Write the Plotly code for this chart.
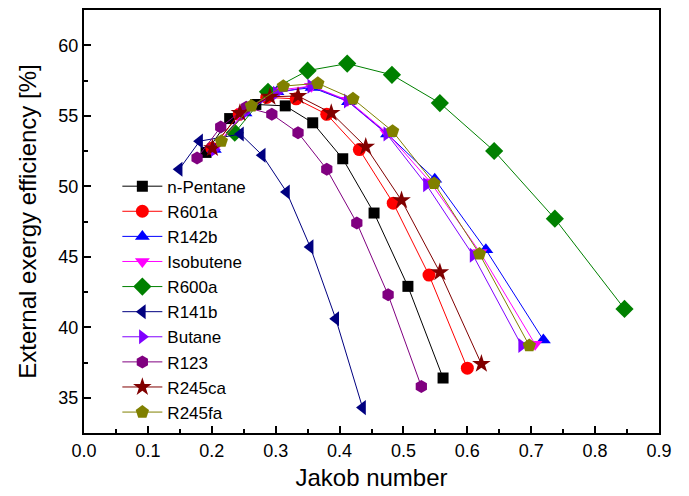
import plotly.graph_objects as go

# ---- data ----
npentane_x = [0.191, 0.228, 0.269, 0.315, 0.358, 0.405, 0.454, 0.507, 0.562]
npentane_y = [52.4, 54.8, 55.8, 55.7, 54.5, 51.95, 48.1, 42.9, 36.4]

r601a_x = [0.200, 0.243, 0.286, 0.332, 0.380, 0.431, 0.484, 0.540, 0.600]
r601a_y = [52.7, 55.1, 56.3, 56.2, 55.1, 52.6, 48.8, 43.7, 37.1]

r142b_x = [0.204, 0.252, 0.302, 0.357, 0.414, 0.475, 0.549, 0.629, 0.719]
r142b_y = [52.6, 55.2, 56.7, 57.0, 56.0, 53.7, 50.5, 45.5, 39.1]

isobutene_x = [0.204, 0.251, 0.301, 0.356, 0.413, 0.474, 0.542, 0.620, 0.706]
isobutene_y = [52.7, 55.3, 56.8, 57.1, 56.1, 53.8, 50.3, 45.3, 38.8]

r600a_x = [0.236, 0.288, 0.350, 0.412, 0.482, 0.557, 0.642, 0.737, 0.846]
r600a_y = [53.8, 56.7, 58.2, 58.7, 57.9, 55.9, 52.5, 47.7, 41.3]

r141b_x = [0.149, 0.181, 0.245, 0.279, 0.317, 0.354, 0.394, 0.436]
r141b_y = [51.2, 53.2, 53.7, 52.2, 49.6, 45.7, 40.6, 34.3]

butane_x = [0.204, 0.251, 0.301, 0.355, 0.412, 0.474, 0.536, 0.609, 0.685]
butane_y = [52.6, 55.2, 56.6, 57.1, 56.05, 53.7, 50.1, 45.1, 38.7]

r123_x = [0.177, 0.214, 0.254, 0.294, 0.335, 0.380, 0.427, 0.476, 0.528]
r123_y = [52.0, 54.2, 55.6, 55.1, 53.8, 51.2, 47.4, 42.3, 35.8]

r245ca_x = [0.201, 0.244, 0.291, 0.335, 0.387, 0.441, 0.497, 0.557, 0.622]
r245ca_y = [52.7, 55.2, 56.35, 56.4, 55.2, 52.8, 49.0, 43.9, 37.4]

r245fa_x = [0.215, 0.262, 0.312, 0.366, 0.421, 0.483, 0.548, 0.619, 0.697]
r245fa_y = [53.2, 55.7, 57.1, 57.3, 56.2, 53.9, 50.2, 45.2, 38.7]

x_ticks = [0.0, 0.1, 0.2, 0.3, 0.4, 0.5, 0.6, 0.7, 0.8, 0.9]
y_ticks = [35, 40, 45, 50, 55, 60]

series = [
    ("n-Pentane", npentane_x, npentane_y, "#000000", "square", 11),
    ("R601a", r601a_x, r601a_y, "#FF0000", "circle", 13),
    ("R142b", r142b_x, r142b_y, "#0000FF", "triangle-up", 13),
    ("Isobutene", isobutene_x, isobutene_y, "#FF00FF", "triangle-down", 13),
    ("R600a", r600a_x, r600a_y, "#008000", "diamond", 14),
    ("R141b", r141b_x, r141b_y, "#000080", "triangle-left", 13),
    ("Butane", butane_x, butane_y, "#8000FF", "triangle-right", 13),
    ("R123", r123_x, r123_y, "#800080", "hexagon", 13),
    ("R245ca", r245ca_x, r245ca_y, "#800000", "star", 14),
    ("R245fa", r245fa_x, r245fa_y, "#808000", "pentagon", 14),
]

fig = go.Figure()
for name, xs, ys, col, sym, sz in series:
    fig.add_trace(go.Scatter(
        x=xs, y=ys, name=name, mode="lines+markers",
        line=dict(color=col, width=1),
        marker=dict(symbol=sym, size=sz, color=col, line=dict(width=0)),
    ))

font_family = "Liberation Sans, Arial, sans-serif"
fig.update_layout(
    width=689, height=496,
    margin=dict(l=84, r=30, t=10, b=63),
    paper_bgcolor="white", plot_bgcolor="white",
    font=dict(family=font_family, color="black"),
    showlegend=True,
    legend=dict(
        x=0.058, y=0.625, xanchor="left", yanchor="top",
        bgcolor="rgba(0,0,0,0)", borderwidth=0,
        font=dict(size=17, family=font_family),
        tracegroupgap=0, itemwidth=40,
    ),
)
fig.update_xaxes(
    range=[0, 0.9], tickvals=x_ticks, ticktext=[f"{v:.1f}" for v in x_ticks],
    showgrid=False, zeroline=False, automargin=False,
    showline=True, linecolor="black", linewidth=2, mirror=True,
    ticks="inside", ticklen=7, tickwidth=1.5, tickcolor="black",
    minor=dict(ticks="inside", ticklen=4, tickwidth=1.5, tickcolor="black", dtick=0.05, tick0=0),
    tickfont=dict(size=18, family=font_family),
    title=dict(text="Jakob number", font=dict(size=24, family=font_family), standoff=10),
)
fig.update_yaxes(
    range=[32.5, 62.5], tickvals=y_ticks,
    showgrid=False, zeroline=False, automargin=False,
    showline=True, linecolor="black", linewidth=2, mirror=True,
    ticks="inside", ticklen=7, tickwidth=1.5, tickcolor="black",
    minor=dict(ticks="inside", ticklen=4, tickwidth=1.5, tickcolor="black", dtick=2.5, tick0=0),
    tickfont=dict(size=18, family=font_family),
    title=dict(text="External exergy efficiency [%]", font=dict(size=24, family=font_family), standoff=15),
)

fig.write_html("out.html", config={"displayModeBar": False},
               post_script="document.body.style.margin='0';")
